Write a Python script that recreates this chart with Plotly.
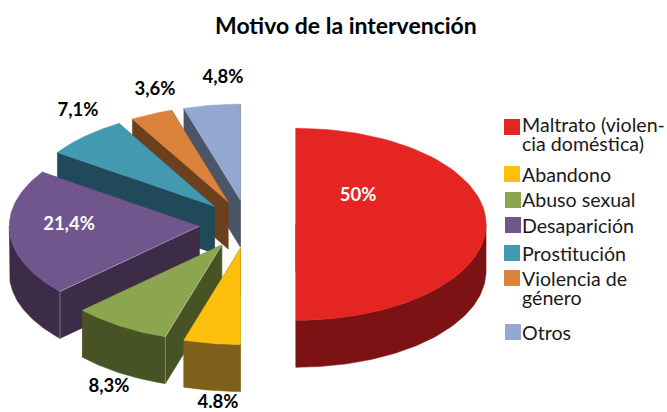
import numpy as np
import plotly.graph_objects as go

categories = ["Maltrato (violencia doméstica)", "Abandono", "Abuso sexual", "Desaparición",
              "Prostitución", "Violencia de género", "Otros"]
values = [50.0, 4.8, 8.3, 21.4, 7.1, 3.6, 4.8]
value_labels = ["50%", "4.8%", "8,3%", "21,4%", "7,1%", "3,6%", "4,8%"]
legend_lines = [["Maltrato (violen-", "cia doméstica)"], ["Abandono"], ["Abuso sexual"], ["Desaparición"],
                ["Prostitución"], ["Violencia de", "género"], ["Otros"]]

top_colors = ["#E52521", "#FCC00C", "#8BA64E", "#70568D", "#4399B0", "#DB823D", "#93A7CF"]
side_colors = ["#7D1214", "#7F601B", "#475325", "#3C2C47", "#204A59", "#6C401D", "#4A5568"]
label_colors = ["white", "black", "black", "white", "black", "black", "black"]
highlighted_edges = [2, 3]

# layout geometry of the tilted pie
CX, CY, RX, RY, DEPTH, EXPLODE = 247.6, 224.3, 190, 96, 47, 0.255
label_pos = [(358, 196), (218, 403), (109, 387), (69, 225), (78, 111), (155, 90), (223, 78)]
swatch_pos = [(512, 127), (512, 174), (513, 200), (513, 225), (512, 253), (512, 278), (513, 332)]
legend_y = [[124, 143], [174], [199], [225], [253], [278, 297], [332]]
LEGEND_X = 524
FONT = "Lato"

fig = go.Figure()


def pt(cx, cy, theta, dy=0.0):
    return cx + RX * np.sin(theta), cy - RY * np.cos(theta) + dy


def add_poly(xs, ys, color):
    fig.add_trace(go.Scatter(x=xs, y=ys, mode="lines", fill="toself", fillcolor=color,
                             line=dict(color=color, width=0.5), hoverinfo="skip", showlegend=False))


edges = np.cumsum([0] + values) / sum(values) * 2 * np.pi
slices = [(edges[i], edges[i + 1]) for i in range(len(values))]
draw_order = [6, 5, 4, 3, 2, 1, 0]

for i in draw_order:
    a0, a1 = slices[i]
    mid = (a0 + a1) / 2
    cx = CX + EXPLODE * RX * np.sin(mid)
    cy = CY - EXPLODE * RY * np.cos(mid)
    th = np.linspace(a0, a1, 80)
    ax, ay = pt(cx, cy, th)
    # side walls and rim, all in the darker shade
    xs, ys = [], []
    for t in (a0, a1):
        ex, ey = pt(cx, cy, t)
        xs += [cx, ex, ex, cx, cx, None]
        ys += [cy, ey, ey + DEPTH, cy + DEPTH, cy, None]
    lo, hi = max(a0, np.pi / 2), min(a1, 3 * np.pi / 2)
    if hi > lo:
        tr = np.linspace(lo, hi, 80)
        rx, ry = pt(cx, cy, tr)
        xs += list(rx) + list(rx[::-1]) + [rx[0]]
        ys += list(ry) + list(ry[::-1] + DEPTH) + [ry[0]]
    add_poly(xs, ys, side_colors[i])
    # top face
    add_poly([cx] + list(ax) + [cx], [cy] + list(ay) + [cy], top_colors[i])
    # faint light seam on the visible wall's corner
    if i in highlighted_edges:
        ex, ey = pt(cx, cy, a0)
        fig.add_trace(go.Scatter(x=[cx, ex, ex], y=[cy, ey, ey + DEPTH], mode="lines",
                                 line=dict(color="rgba(255,255,255,0.45)", width=0.8),
                                 hoverinfo="skip", showlegend=False))

# value labels
fig.add_trace(go.Scatter(x=[p[0] for p in label_pos], y=[p[1] for p in label_pos], mode="text",
                         text=value_labels, textposition="middle center", hoverinfo="skip", showlegend=False,
                         textfont=dict(family=FONT, size=18.5, color=label_colors, weight=700)))
# legend swatches
fig.add_trace(go.Scatter(x=[p[0] for p in swatch_pos], y=[p[1] for p in swatch_pos], mode="markers",
                         marker=dict(symbol="square", size=16, color=top_colors, line=dict(width=0)),
                         hoverinfo="skip", showlegend=False))
# legend text
for lines, ys in zip(legend_lines, legend_y):
    for line, y in zip(lines, ys):
        fig.add_annotation(x=LEGEND_X, y=y, text=line, showarrow=False, xanchor="left", yanchor="middle",
                           font=dict(family=FONT, size=19.6, color="#1a1a1a"), xshift=-3, borderpad=0)

fig.add_annotation(x=346, y=25, text="<b>Motivo de la intervención</b>", showarrow=False,
                   xanchor="center", yanchor="middle", font=dict(family=FONT, size=23, color="black"))

fig.update_layout(width=667, height=412, margin=dict(l=0, r=0, t=0, b=0), paper_bgcolor="white",
                  plot_bgcolor="white", showlegend=False,
                  xaxis=dict(range=[0, 667], visible=False, fixedrange=True),
                  yaxis=dict(range=[412, 0], visible=False, fixedrange=True))
fig.write_html("out.html", config=dict(displayModeBar=False),
               post_script="document.body.style.margin='0';document.documentElement.style.overflow='hidden';")
